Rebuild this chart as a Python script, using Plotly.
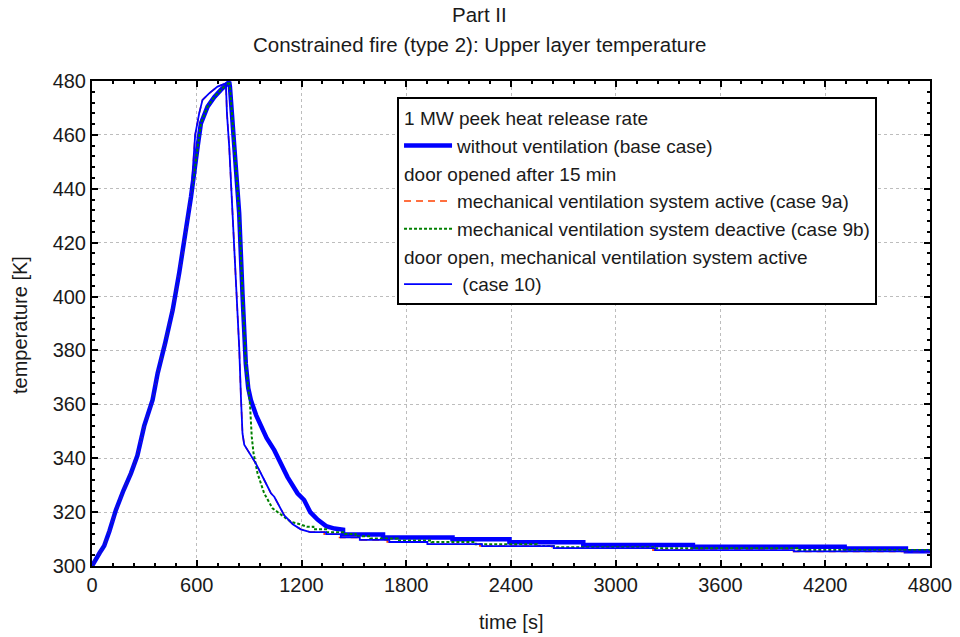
import plotly.graph_objects as go

# ---------------- data ----------------
t_base = [0, 20, 45, 60, 70, 100, 137, 180, 223, 260, 299, 347, 376, 420, 462, 500, 528, 567,
          605, 624, 662, 700, 738, 786, 790, 815, 843, 862, 881, 895, 910, 940, 967, 1000,
          1044, 1080, 1120, 1177, 1215, 1250, 1292, 1341, 1389, 1438, 1438, 1667, 1667,
          2065, 2065, 2391, 2391, 2814, 2814, 3442, 3442, 4311, 4311, 4662, 4662, 4800]
T_base = [300, 302.5, 305, 306.5, 307.5, 313, 320.8, 328, 334.4, 341, 352, 361.6, 371.5, 383,
          395, 409, 419.8, 437, 455.6, 464.3, 470.5, 474, 476.7, 479.7, 478, 455.6, 431, 401,
          375, 366, 361.6, 356, 351.7, 347.5, 343, 338, 333, 327, 324.5, 320, 317.2, 314.8,
          313.9, 313.5, 311.7, 311.7, 310.6, 310.6, 309.9, 309.9, 308.8, 308.8, 307.8, 307.8,
          307.1, 307.1, 306.5, 306.5, 305.5, 305.5]

t_9a = [0, 20, 45, 60, 70, 100, 137, 180, 223, 260, 299, 347, 376, 420, 462, 500, 528, 567,
        591, 614, 633, 671, 719, 767, 773, 786, 805, 824, 843, 853, 862, 872, 891, 939, 986,
        1025, 1044, 1101, 1150, 1196, 1250, 1330, 1330, 1413, 1413, 1522, 1522, 1691, 1691,
        1909, 1909, 2222, 2222, 2633, 2633, 3213, 3213, 4009, 4009, 4800]
T_9a = [300, 302.5, 305, 306.5, 307.5, 313, 320.8, 328, 334.4, 341, 352, 361.6, 371.5, 383,
        395, 409, 419.8, 437, 460, 468, 473, 475.4, 477.9, 479.1, 468, 455.6, 431, 406, 381.4,
        362.8, 349.2, 345, 343, 338, 332, 327, 325.7, 318.8, 315.5, 313.6, 312.6, 312.6,
        311.8, 311.8, 310.6, 310.6, 309.7, 309.7, 308.9, 308.9, 308.1, 308.1, 307.4, 307.4,
        306.6, 306.6, 305.9, 305.9, 305.4, 305.4]

t_9b = [0, 20, 45, 60, 70, 100, 137, 180, 223, 260, 299, 347, 376, 420, 462, 500, 528, 567,
        605, 624, 662, 700, 738, 786, 790, 815, 843, 862, 881, 895, 905, 915, 925, 948, 986,
        1034, 1101, 1139, 1196, 1230, 1268, 1268, 1341, 1341, 1438, 1438, 1510, 1510, 1594,
        1594, 1751, 1751, 1945, 1945, 2198, 2198, 2548, 2548, 2645, 2645, 3225, 3225, 4046,
        4046, 4800]
T_9b = [300, 302.5, 305, 306.5, 307.5, 313, 320.8, 328, 334.4, 341, 352, 361.6, 371.5, 383,
        395, 409, 419.8, 437, 455.6, 464.3, 470.5, 474, 476.7, 479.7, 478, 455.6, 431, 401,
        375, 366, 360, 348, 342, 334.4, 327, 321.4, 318.3, 316.4, 315.4, 314.6, 314.6, 313.6,
        313.6, 312.5, 312.5, 311.9, 311.9, 311.0, 311.0, 310.2, 310.2, 309.5, 309.5, 308.9,
        308.9, 308.1, 308.1, 307.4, 307.4, 307.0, 307.0, 306.6, 306.6, 305.9, 305.9]

t_10 = [0, 20, 45, 60, 70, 100, 137, 180, 223, 260, 299, 347, 376, 420, 462, 500, 528, 567,
        591, 614, 633, 671, 719, 767, 773, 786, 805, 824, 843, 853, 862, 872, 891, 939, 986,
        1025, 1044, 1101, 1150, 1196, 1250, 1341, 1341, 1425, 1425, 1534, 1534, 1703, 1703,
        1921, 1921, 2234, 2234, 2645, 2645, 3225, 3225, 4021, 4021, 4800]
T_10 = [300, 302.5, 305, 306.5, 307.5, 313, 320.8, 328, 334.4, 341, 352, 361.6, 371.5, 383,
        395, 409, 419.8, 437, 460, 468, 473, 475.4, 477.9, 479.1, 468, 455.6, 431, 406, 381.4,
        362.8, 349.2, 345, 343, 338, 332, 327, 325.7, 318.8, 315.5, 313.6, 312.6, 312.6,
        311.8, 311.8, 310.6, 310.6, 309.7, 309.7, 308.9, 308.9, 308.1, 308.1, 307.4, 307.4,
        306.6, 306.6, 305.9, 305.9, 305.4, 305.4]

x_ticks = [0, 600, 1200, 1800, 2400, 3000, 3600, 4200, 4800]
y_ticks = [300, 320, 340, 360, 380, 400, 420, 440, 460, 480]

FONT = "Liberation Sans, Arial, Helvetica, sans-serif"
TXT = "#1a1a1a"

fig = go.Figure()
fig.add_trace(go.Scatter(
    x=t_base, y=T_base, mode="lines", name="without ventilation (base case)",
    line=dict(color="#0000ff", width=4.5),
    legendgroup="g1", legendgrouptitle=dict(text="1 MW peek heat release rate")))
fig.add_trace(go.Scatter(
    x=t_9a, y=T_9a, mode="lines", name="mechanical ventilation system active (case 9a)",
    line=dict(color="#ff4000", width=1.6, dash="7px,5px"),
    legendgroup="g2", legendgrouptitle=dict(text="door opened after 15 min")))
fig.add_trace(go.Scatter(
    x=t_9b, y=T_9b, mode="lines", name="mechanical ventilation system deactive (case 9b)",
    line=dict(color="#008000", width=2, dash="3px,2px"),
    legendgroup="g2"))
fig.add_trace(go.Scatter(
    x=t_10, y=T_10, mode="lines", name="\u00a0(case 10)",
    line=dict(color="#0000ff", width=1.8),
    legendgroup="g3",
    legendgrouptitle=dict(text="door open, mechanical ventilation system active")))

axis_common = dict(
    showline=True, linecolor="black", linewidth=2, mirror="allticks",
    ticks="inside", ticklen=6, tickwidth=2, tickcolor="black",
    showgrid=True, gridcolor="#bdbdbd", gridwidth=1, griddash="dot",
    zeroline=False, automargin=False,
    tickfont=dict(family=FONT, size=20, color=TXT),
)

fig.update_xaxes(range=[0, 4800], tickvals=x_ticks,
                 minor=dict(ticks="inside", ticklen=3, tickwidth=2, tickcolor="black",
                            dtick=120, showgrid=False),
                 **axis_common)
fig.update_yaxes(range=[300, 480], tickvals=y_ticks,
                 minor=dict(ticks="inside", ticklen=3, tickwidth=2, tickcolor="black",
                            dtick=4, showgrid=False),
                 **axis_common)

# page has an 8px body margin, so the figure is 952x629 and shifted by (8, 8)
fig.update_layout(
    width=952, height=629,
    margin=dict(l=84, r=30, t=73, b=71),
    paper_bgcolor="white", plot_bgcolor="white",
    font=dict(family=FONT, size=20, color=TXT),
    legend=dict(x=0.364, y=0.967, xanchor="left", yanchor="top",
                bgcolor="white", bordercolor="black", borderwidth=2,
                font=dict(family=FONT, size=19, color=TXT),
                grouptitlefont=dict(family=FONT, size=19, color=TXT),
                traceorder="grouped", tracegroupgap=0, itemwidth=48),
    annotations=[
        dict(text="Part II", xref="paper", yref="paper", x=0.463, y=1.138,
             xanchor="center", yanchor="middle", showarrow=False,
             font=dict(family=FONT, size=20.5, color=TXT)),
        dict(text="Constrained fire (type 2): Upper layer temperature", xref="paper",
             yref="paper", x=0.463, y=1.076, xanchor="center", yanchor="middle",
             showarrow=False, font=dict(family=FONT, size=20.5, color=TXT)),
        dict(text="time [s]", xref="paper", yref="paper", x=0.5, y=-0.1155,
             xanchor="center", yanchor="middle", showarrow=False,
             font=dict(family=FONT, size=20, color=TXT)),
        dict(text="temperature [K]", xref="paper", yref="paper", x=-0.0859, y=0.497,
             xanchor="center", yanchor="middle", textangle=-90, showarrow=False,
             font=dict(family=FONT, size=20, color=TXT)),
    ],
)

fig.write_html("out.html")
